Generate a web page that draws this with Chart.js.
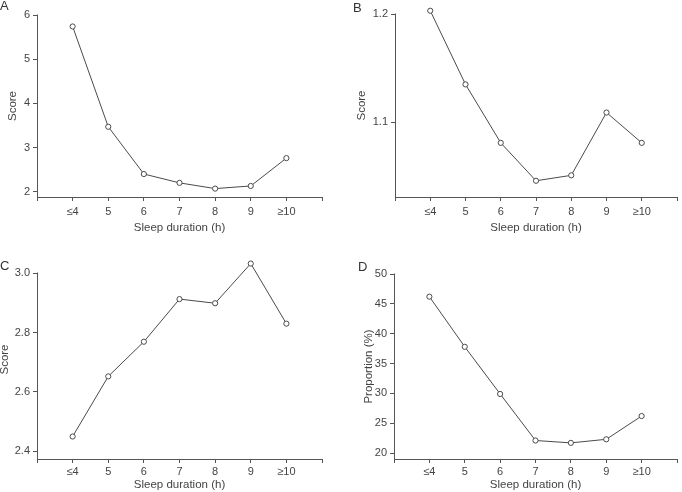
<!DOCTYPE html>
<html>
<head>
<meta charset="utf-8">
<script src="https://cdn.jsdelivr.net/npm/chart.js"></script>
<style>
  html, body { margin: 0; padding: 0; background: #fff; }
  #wrap { position: relative; width: 682px; height: 492px; overflow: hidden; }
  .panel { position: absolute; width: 341px; height: 246px; }
  .letter { position: absolute; font-family: "Liberation Sans", Arial, sans-serif; font-size: 13px; color: #333; line-height: 15px; }
</style>
</head>
<body>
<div id="wrap">
  <div class="panel" style="left:0;top:0"><canvas id="chartA" width="341" height="246"></canvas></div>
  <div class="panel" style="left:341px;top:0"><canvas id="chartB" width="341" height="246"></canvas></div>
  <div class="panel" style="left:0;top:246px"><canvas id="chartC" width="341" height="246"></canvas></div>
  <div class="panel" style="left:341px;top:246px"><canvas id="chartD" width="341" height="246"></canvas></div>
  <div class="letter" style="left:0;top:-2px">A</div>
  <div class="letter" style="left:353px;top:0">B</div>
  <div class="letter" style="left:0;top:258px">C</div>
  <div class="letter" style="left:358px;top:259px">D</div>
</div>
<script>
// sleep duration categories
const categories = ['≤4', '5', '6', '7', '8', '9', '≥10'];

// values
const scoreA = [5.74, 3.47, 2.40, 2.20, 2.07, 2.13, 2.76];
const scoreB = [1.203, 1.135, 1.081, 1.046, 1.051, 1.109, 1.081];
const scoreC = [2.449, 2.652, 2.769, 2.913, 2.899, 3.033, 2.830];
const proportionD = [46.2, 37.8, 29.9, 22.1, 21.7, 22.3, 26.2];

// y tick labels
const ticksA = [2, 3, 4, 5, 6];
const ticksB = [1.1, 1.2];
const ticksC = [2.4, 2.6, 2.8, 3.0];
const ticksD = [20, 25, 30, 35, 40, 45, 50];

const axisColor = '#555';
const textColor = '#444';
const fontFamily = '"Liberation Sans", Arial, sans-serif';

// y axis line only runs from the top tick down (panel C has a point above it)
const yAxisLine = {
    id: 'yAxisLine',
    beforeDatasetsDraw(chart) {
        const y = chart.scales.y;
        const area = chart.chartArea;
        const top = y.getPixelForValue(y.ticks[y.ticks.length - 1].value);
        const x = Math.round(area.left - 0.5) + 0.5;
        const ctx = chart.ctx;
        ctx.save();
        ctx.strokeStyle = axisColor;
        ctx.lineWidth = 1;
        ctx.beginPath();
        ctx.moveTo(x, Math.round(top) - 0.5);
        ctx.lineTo(x, area.bottom);
        ctx.stroke();
        ctx.restore();
    }
};

function makePanel(id, values, yTicks, o) {
    const points = values.map((v, i) => ({ x: i + 1, y: v }));
    return new Chart(document.getElementById(id), {
        type: 'line',
        data: {
            datasets: [{
                data: points,
                borderColor: '#4a4a4a',
                borderWidth: 1,
                pointRadius: 2.6,
                pointBorderWidth: 1,
                pointBorderColor: '#4a4a4a',
                pointBackgroundColor: '#fff',
                tension: 0,
                clip: false
            }]
        },
        plugins: [yAxisLine],
        options: {
            responsive: false,
            animation: false,
            events: [],
            layout: { padding: { top: o.top, right: o.right, left: 0, bottom: 0 } },
            plugins: { legend: { display: false }, tooltip: { enabled: false } },
            scales: {
                x: {
                    type: 'linear',
                    min: 0,
                    max: categories.length + 1,
                    afterBuildTicks: s => { s.ticks = categories.concat(['', '']).map((c, i) => ({ value: i })); },
                    afterFit: s => { s.height = o.xh; },
                    border: { color: axisColor, width: 1 },
                    grid: { drawOnChartArea: false, color: axisColor, tickLength: 4 },
                    ticks: {
                        color: textColor,
                        font: { family: fontFamily, size: 11 },
                        padding: o.xlPad,
                        maxRotation: 0,
                        autoSkip: false,
                        callback: v => categories[v - 1] || ''
                    },
                    title: {
                        display: true,
                        text: 'Sleep duration (h)',
                        color: textColor,
                        font: { family: fontFamily, size: 11.5 },
                        padding: { top: 0, bottom: o.xtPad }
                    }
                },
                y: {
                    min: o.min,
                    max: o.max,
                    afterBuildTicks: s => { s.ticks = yTicks.map(v => ({ value: v })); },
                    afterFit: s => { s.width = o.yw; },
                    border: { display: false },
                    grid: { drawOnChartArea: false, color: axisColor, tickLength: 4 },
                    ticks: {
                        color: textColor,
                        font: { family: fontFamily, size: 11 },
                        padding: 3,
                        callback: v => o.dec ? v.toFixed(o.dec) : String(v)
                    },
                    title: {
                        display: true,
                        text: o.title,
                        color: textColor,
                        font: { family: fontFamily, size: 11.5 },
                        padding: { top: o.ytPad, bottom: 0 }
                    }
                }
            }
        }
    });
}

makePanel('chartA', scoreA, ticksA, { min: 1.88, max: 6, top: 15, right: 19, yw: 37, xh: 49, xlPad: 4, xtPad: 11, ytPad: 6, title: 'Score', dec: 0 });
makePanel('chartB', scoreB, ticksB, { min: 1.031, max: 1.2, top: 14, right: 1, yw: 54, xh: 49, xlPad: 4, xtPad: 11, ytPad: 14, title: 'Score', dec: 1 });
makePanel('chartC', scoreC, ticksC, { min: 2.373, max: 3.045, top: 14, right: 19, yw: 37, xh: 33, xlPad: 2, xtPad: 0, ytPad: -2, title: 'Score', dec: 1 });
makePanel('chartD', proportionD, ticksD, { min: 19, max: 50, top: 28, right: 1, yw: 53, xh: 33, xlPad: 2, xtPad: 0, ytPad: 21, title: 'Proportion (%)', dec: 0 });
</script>
</body>
</html>
